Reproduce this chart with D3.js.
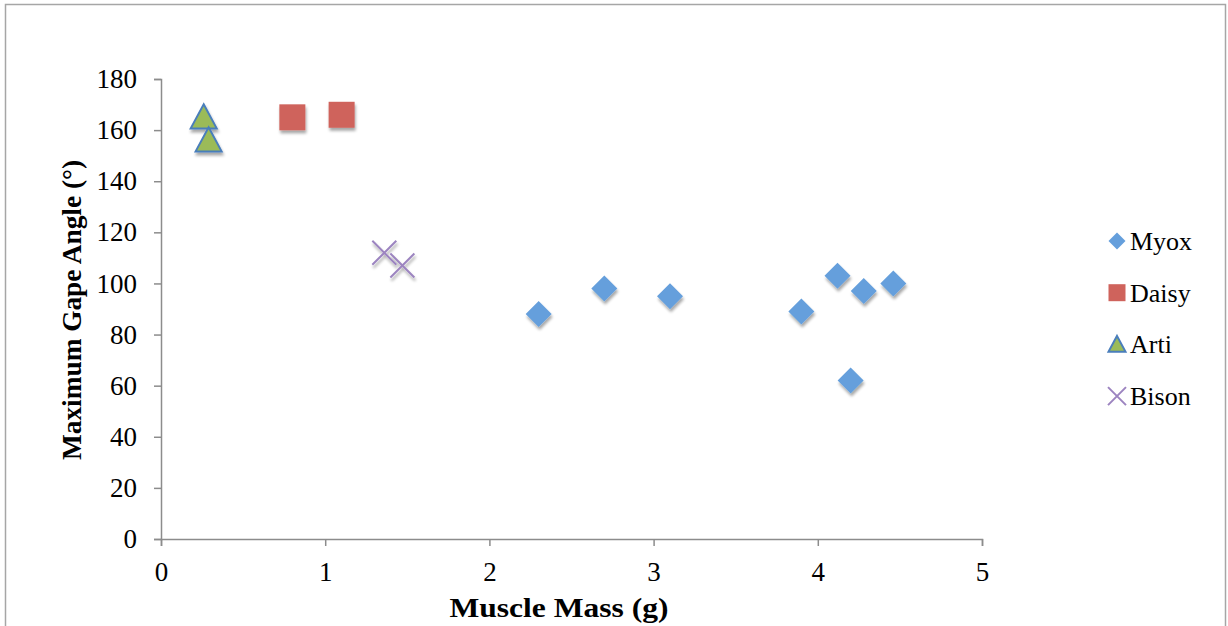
<!DOCTYPE html>
<html><head><meta charset="utf-8">
<script src="https://cdn.jsdelivr.net/npm/d3@7"></script>
<style>html,body{margin:0;padding:0;background:#fff;}svg{display:block;}</style>
</head><body>
<script>
const seriesNames = ["Myox", "Daisy", "Arti", "Bison"];
const myoxX = [2.3, 2.7, 3.1, 3.9, 4.12, 4.28, 4.46, 4.2];
const myoxY = [88, 98, 95, 89, 103, 97, 100, 62];
const daisyX = [0.8, 1.1];
const daisyY = [165, 166];
const artiX = [0.26, 0.29];
const artiY = [165, 156];
const bisonX = [1.36, 1.47];
const bisonY = [112, 107];
const xTicks = [0, 1, 2, 3, 4, 5];
const yTicks = [0, 20, 40, 60, 80, 100, 120, 140, 160, 180];

const W = 1228, H = 626;
const font = "'Liberation Serif', 'DejaVu Serif', serif";
const svg = d3.select("body").append("svg").attr("width", W).attr("height", H);

const defs = svg.append("defs");
const f = defs.append("filter").attr("id", "sh").attr("x", "-50%").attr("y", "-50%").attr("width", "200%").attr("height", "200%");
f.append("feGaussianBlur").attr("in", "SourceAlpha").attr("stdDeviation", 1.6).attr("result", "b");
f.append("feOffset").attr("in", "b").attr("dx", 1).attr("dy", 3).attr("result", "o");
f.append("feComponentTransfer").attr("in", "o").attr("result", "o2")
  .append("feFuncA").attr("type", "linear").attr("slope", 0.35);
const fm = f.append("feMerge");
fm.append("feMergeNode").attr("in", "o2");
fm.append("feMergeNode").attr("in", "SourceGraphic");

svg.append("rect").attr("x", 5.5).attr("y", 4.5).attr("width", W - 8).attr("height", H + 10)
  .attr("fill", "#fff").attr("stroke", "#a6a6a6").attr("stroke-width", 1.5);

const x = d3.scaleLinear().domain([0, 5]).range([161, 982]);
const y = d3.scaleLinear().domain([0, 180]).range([539, 79]);

const axisColor = "#8c8c8c";
const gx = svg.append("g").attr("transform", `translate(0,${y(0)})`)
  .call(d3.axisBottom(x).tickValues(xTicks).tickSize(7).tickSizeOuter(7).tickPadding(16).tickFormat(d3.format("d")));
const gy = svg.append("g").attr("transform", `translate(${x(0)},0)`)
  .call(d3.axisLeft(y).tickValues(yTicks).tickSize(7).tickSizeOuter(7).tickPadding(17).tickFormat(d3.format("d")));
[gx, gy].forEach(g => {
  g.selectAll("path,line").attr("stroke", axisColor).attr("stroke-width", 1.5);
  g.selectAll("text").attr("fill", "#000").style("font-family", font).style("font-size", "27px");
});

svg.append("text").attr("x", 559).attr("y", 617).attr("text-anchor", "middle")
  .attr("textLength", 219).attr("lengthAdjust", "spacingAndGlyphs")
  .style("font-family", font).style("font-size", "28px").style("font-weight", "bold")
  .text("Muscle Mass (g)");
svg.append("text").attr("transform", "translate(81,310) rotate(-90)").attr("text-anchor", "middle")
  .attr("textLength", 300).attr("lengthAdjust", "spacingAndGlyphs")
  .style("font-family", font).style("font-size", "28px").style("font-weight", "bold")
  .text("Maximum Gape Angle (°)");

const blue = "#659fdc", red = "#cf635c", green = "#9bbb59", greenStroke = "#4a7ebb", purple = "#9c84c0";

function drawMarker(g, type, cx, cy, s) {
  if (type === "Myox") {
    g.append("path").attr("d", `M${cx},${cy - s}L${cx + s},${cy}L${cx},${cy + s}L${cx - s},${cy}Z`).attr("fill", blue);
  } else if (type === "Daisy") {
    g.append("rect").attr("x", cx - s).attr("y", cy - s).attr("width", 2 * s).attr("height", 2 * s).attr("fill", red);
  } else if (type === "Arti") {
    g.append("path").attr("d", `M${cx},${cy - s}L${cx + s},${cy + s * 0.85}L${cx - s},${cy + s * 0.85}Z`)
      .attr("fill", green).attr("stroke", greenStroke).attr("stroke-width", 2);
  } else {
    g.append("path").attr("d", `M${cx - s},${cy - s}L${cx + s},${cy + s}M${cx - s},${cy + s}L${cx + s},${cy - s}`)
      .attr("stroke", purple).attr("stroke-width", 2).attr("fill", "none");
  }
}

const pts = svg.append("g").attr("filter", "url(#sh)");
const data = [
  ["Myox", myoxX, myoxY, 13],
  ["Daisy", daisyX, daisyY, 13],
  ["Arti", artiX, artiY, 13],
  ["Bison", bisonX, bisonY, 12]
];
data.forEach(([name, xs, ys, s]) => {
  xs.forEach((v, i) => drawMarker(pts, name, x(v), y(ys[i]), s));
});

const leg = svg.append("g");
const legSizes = [8.5, 8.5, 8.5, 9];
seriesNames.forEach((n, i) => {
  const cy = 241 + i * 51.7;
  drawMarker(leg, n, 1117, cy, legSizes[i]);
  leg.append("text").attr("x", 1130).attr("y", cy + 9).style("font-family", font).style("font-size", "26px").text(n);
});
</script>
</body></html>
